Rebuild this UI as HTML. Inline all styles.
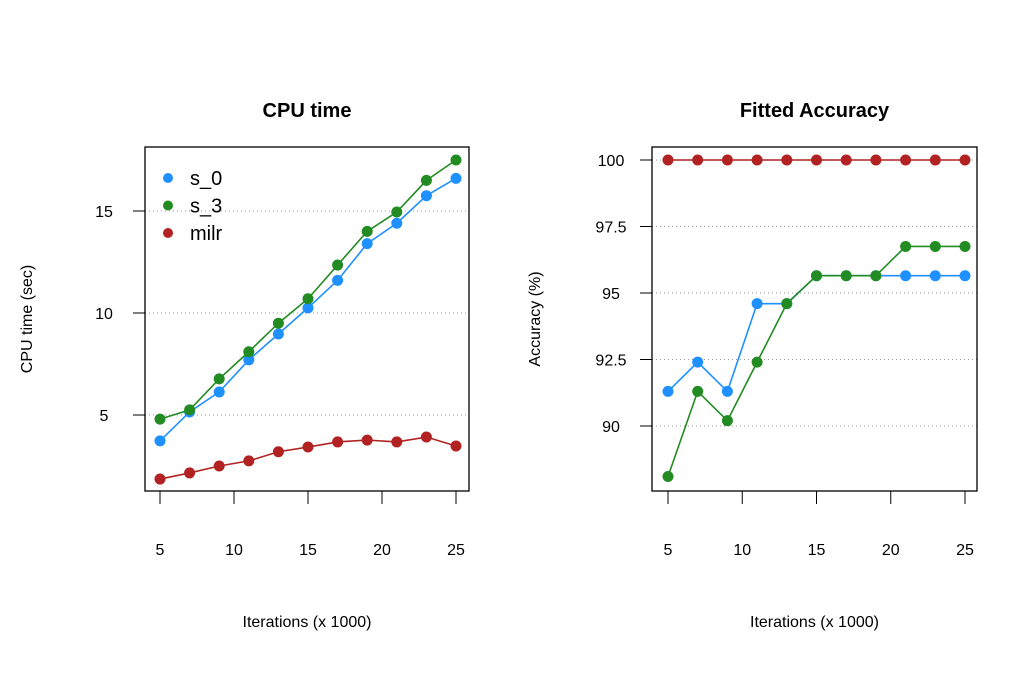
<!DOCTYPE html>
<html><head><meta charset="utf-8"><style>
body{margin:0;background:#fff}
text{font-family:"Liberation Sans",sans-serif;fill:#000}
</style></head><body>
<svg id="c" width="1015" height="675" xmlns="http://www.w3.org/2000/svg"></svg>
<script>
const iters=[5,7,9,11,13,15,17,19,21,23,25];
const xTicks=[5,10,15,20,25];
const cpuS0=[3.73,5.15,6.13,7.7,8.97,10.25,11.6,13.4,14.4,15.75,16.6];
const cpuS3=[4.8,5.25,6.77,8.1,9.5,10.7,12.35,14.0,14.95,16.5,17.5];
const cpuMilr=[1.86,2.16,2.5,2.75,3.2,3.43,3.68,3.77,3.68,3.92,3.48];
const cpuTicks=[5,10,15];
const cpuTickLabels=["5","10","15"];
const accS0=[91.3,92.4,91.3,94.6,94.6,95.65,95.65,95.65,95.65,95.65,95.65];
const accS3=[88.1,91.3,90.2,92.4,94.6,95.65,95.65,95.65,96.75,96.75,96.75];
const accMilr=[100,100,100,100,100,100,100,100,100,100,100];
const accTicks=[90,92.5,95,97.5,100];
const accTickLabels=["90","92.5","95","97.5","100"];
const seriesNames=["s_0","s_3","milr"];
const colors=["#1e90ff","#228b22","#b22222"];
const NS="http://www.w3.org/2000/svg";
const svg=document.getElementById('c');
function el(t,a,p){const e=document.createElementNS(NS,t);for(const k in a)e.setAttribute(k,a[k]);(p||svg).appendChild(e);return e;}
function panel(o){
  const g=el('g',{});
  
  
  const sx=v=>o.x0+(v-5)*(o.x1-o.x0)/20;
  const sy=v=>o.ya+(v-o.va)*(o.yb-o.ya)/(o.vb-o.va);
  o.yTicks.forEach((t,i)=>{
    const gl=el('line',{x1:o.L,x2:o.R,y1:sy(t),y2:sy(t),stroke:'#999','stroke-dasharray':'1,3','stroke-width':1},g);
    
    const tk=el('line',{x1:o.L-12,x2:o.L,y1:sy(t),y2:sy(t),stroke:'#000'},g);
    
    const tl=el('text',{x:o.L-41,y:sy(t)+6,'text-anchor':'middle','font-size':16},g);
    tl.textContent=o.yLabels[i];
    
  });
  xTicks.forEach(t=>{
    const tk=el('line',{x1:sx(t),x2:sx(t),y1:o.B,y2:o.B+13,stroke:'#000'},g);
    
    const tl=el('text',{x:sx(t),y:555,'text-anchor':'middle','font-size':16},g);
    tl.textContent=t;
    
  });
  o.series.forEach((s,k)=>{
    const pts=iters.map((x,i)=>sx(x)+','+sy(s[i])).join(' ');
    const pl=el('polyline',{points:pts,fill:'none',stroke:colors[k],'stroke-width':1.6},g);
    
    iters.forEach((x,i)=>{
      const c=el('circle',{cx:sx(x),cy:sy(s[i]),r:5.5,fill:colors[k]},g);
      
    });
  });
  const bx=el('rect',{x:o.L,y:o.T,width:o.R-o.L,height:o.B-o.T,fill:'none',stroke:'#000','stroke-width':1.3},g);
  
  const ti=el('text',{x:(o.L+o.R)/2,y:117,'text-anchor':'middle','font-size':20,'font-weight':'bold'},g);
  ti.textContent=o.title;
  const xt=el('text',{x:(o.L+o.R)/2,y:627,'text-anchor':'middle','font-size':16},g);
  xt.textContent='Iterations (x 1000)';
  const yt=el('text',{x:0,y:0,'text-anchor':'middle','font-size':16,transform:`translate(${o.yTitleX},319) rotate(-90)`},g);
  yt.textContent=o.yTitle;
}
panel({name:'cpu-time-panel',L:145,R:469,T:147,B:491,x0:160,x1:456,ya:415,va:5,yb:211,vb:15,
  yTicks:cpuTicks,yLabels:cpuTickLabels,series:[cpuS0,cpuS3,cpuMilr],title:'CPU time',yTitle:'CPU time (sec)',yTitleX:32});
panel({name:'accuracy-panel',L:652,R:977,T:147,B:491,x0:668,x1:965,ya:426,va:90,yb:160,vb:100,
  yTicks:accTicks,yLabels:accTickLabels,series:[accS0,accS3,accMilr],title:'Fitted Accuracy',yTitle:'Accuracy (%)',yTitleX:540});
const lg=el('g',{});


seriesNames.forEach((n,i)=>{
  const y=178+i*27.5;
  const c=el('circle',{cx:168,cy:y,r:5,fill:colors[i]},lg);
  
  const t=el('text',{x:190,y:y+7,'font-size':20},lg);
  t.textContent=n;
});
</script>
</body></html>
